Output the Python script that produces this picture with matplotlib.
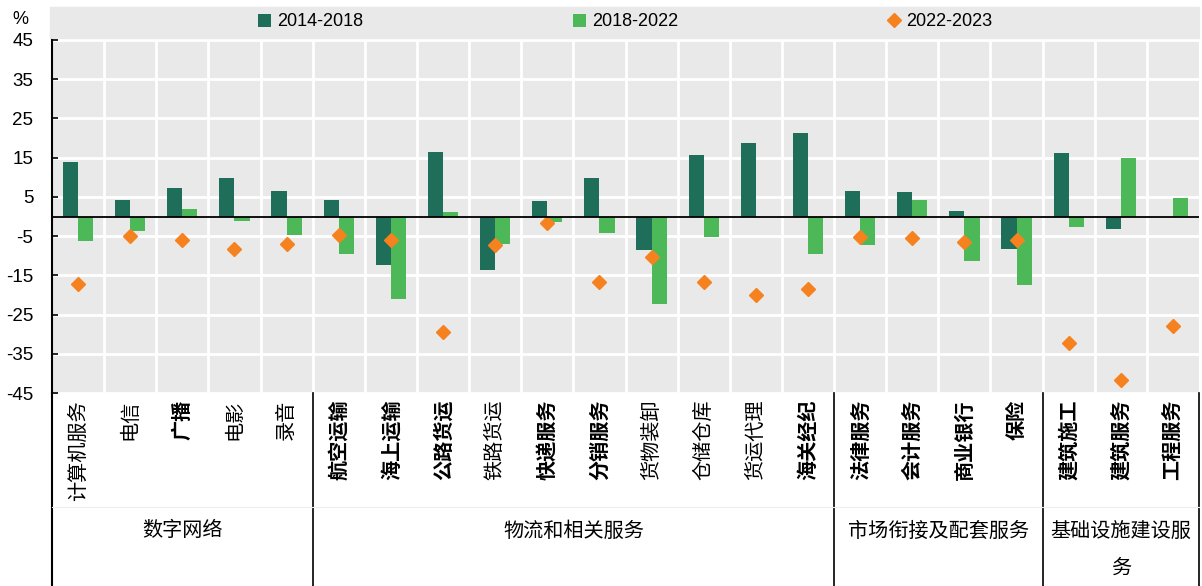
import numpy as np
import matplotlib.pyplot as plt
from matplotlib.patches import Rectangle

plt.rcParams['font.family'] = ['Liberation Sans', 'Noto Sans CJK SC', 'DejaVu Sans']

# data
categories = ['计算机服务', '电信', '广播', '电影', '录音',
              '航空运输', '海上运输', '公路货运', '铁路货运', '快递服务', '分销服务',
              '货物装卸', '仓储仓库', '货运代理', '海关经纪',
              '法律服务', '会计服务', '商业银行', '保险',
              '建筑施工', '建筑服务', '工程服务']
bold_labels = ['广播', '航空运输', '海上运输', '公路货运', '快递服务', '分销服务', '海关经纪',
               '法律服务', '会计服务', '商业银行', '保险', '建筑施工', '建筑服务', '工程服务']
v_2014_2018 = [14.0, 4.1, 7.3, 9.9, 6.5,
               4.3, -12.4, 16.5, -13.6, 4.0, 9.8,
               -8.5, 15.7, 18.8, 21.3,
               6.5, 6.2, 1.4, -8.2,
               16.1, -3.1, 0.0]
v_2018_2022 = [-6.3, -3.6, 2.0, -1.2, -4.8,
               -9.5, -21.0, 1.1, -7.1, -1.5, -4.3,
               -22.4, -5.3, 0.0, -9.5,
               -7.2, 4.3, -11.4, -17.5,
               -2.6, 14.9, 4.6]
v_2022_2023 = [-17.2, -4.9, -5.9, -8.2, -7.1,
               -4.7, -6.0, -29.5, -7.2, -1.7, -16.6,
               -10.4, -16.6, -20.0, -18.5,
               -5.3, -5.4, -6.5, -5.9,
               -32.2, -41.6, -28.0]
groups = ['数字网络', '物流和相关服务', '市场衔接及配套服务', '基础设施建设服']
group_sizes = [5, 10, 4, 3]
yticks = [45, 35, 25, 15, 5, -5, -15, -25, -35, -45]

c_dark = '#1f6e59'
c_light = '#4cb857'
c_orange = '#f5821f'
bg = '#e9e9e9'
cjk = ['Noto Sans CJK SC', 'DejaVu Sans']

W, H = 1202, 586
fig = plt.figure(figsize=(W / 100, H / 100), dpi=100)
L, R, T, B = 52, 1199, 40, 393
ax = fig.add_axes([L / W, (H - B) / H, (R - L) / W, (B - T) / H])
ax.set_facecolor(bg)

# bande grise de la légende
fig.patches.append(Rectangle((50 / W, (H - 38) / H), (R - 50) / W, 31 / H,
                             transform=fig.transFigure, color=bg, zorder=-1))

x = np.arange(len(categories))
bw = 0.29
b1 = ax.bar(x - bw / 2, v_2014_2018, bw, color=c_dark, label='2014-2018', zorder=3)
b2 = ax.bar(x + bw / 2, v_2018_2022, bw, color=c_light, label='2018-2022', zorder=3)
p3, = ax.plot(x, v_2022_2023, 'D', color=c_orange, markersize=7.5, linestyle='none',
              label='2022-2023', zorder=4)
ax.axhline(0, color='black', lw=1.3, zorder=5)

ax.set_xlim(-0.5, len(categories) - 0.5)
ax.set_ylim(-45, 45)
ax.set_yticks(yticks)
ax.set_yticklabels([str(t) for t in yticks], fontsize=13.5)
ax.tick_params(axis='y', direction='in', length=4.5, width=1.2, pad=13.5)
ax.set_xticks([])
for t in yticks:
    ax.axhline(t, color='white', lw=2, zorder=1)
for k in range(1, len(categories)):
    ax.axvline(k - 0.5, color='white', lw=2, zorder=1)
for s in ['top', 'right', 'bottom']:
    ax.spines[s].set_visible(False)
ax.spines['left'].set_linewidth(1.5)

fig.text(20 / W, (H - 20) / H, '%', fontsize=13, ha='center', va='center')

# libellés des catégories
tr = ax.get_xaxis_transform()
for i, c in enumerate(categories):
    ax.text(i, (B - 400) / (B - T), c, rotation=90, ha='center', va='top', fontsize=14.5,
            family=cjk, fontweight='bold' if c in bold_labels else 'normal',
            transform=tr, clip_on=False)

# séparateurs et groupes
ybot = -(H - B) / (B - T)
start = 0
ax.plot([-0.5, -0.5], [0, ybot], color='black', lw=1.5, transform=tr, clip_on=False)
for g, n in zip(groups, group_sizes):
    end = start + n
    ax.plot([end - 0.5, end - 0.5], [0, ybot], color='black', lw=1.2, transform=tr, clip_on=False)
    cx = (start + end - 1) / 2
    ax.text(cx, (B - 531) / (B - T), g, ha='center', va='center', fontsize=14.5,
            family=cjk, transform=tr, clip_on=False)
    start = end
ax.text(20, (B - 568) / (B - T), '务', ha='center', va='center', fontsize=14.5,
        family=cjk, transform=tr, clip_on=False)
ax.plot([-0.5, len(categories) - 0.5], [(B - 507) / (B - T)] * 2, color='#eeeeee',
        lw=0.8, transform=tr, clip_on=False)

fig.legend([b1, b2, p3], ['2014-2018', '2018-2022', '2022-2023'], loc='center',
           bbox_to_anchor=((L + R) / 2 / W, (H - 22) / H),
           ncol=3, frameon=False, fontsize=13,
           handlelength=0.7, handleheight=0.7, handletextpad=0.35, columnspacing=11.6)

fig.savefig('out.png', dpi=100)
